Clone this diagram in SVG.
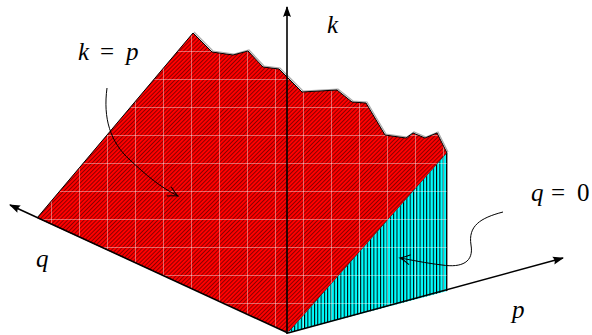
<svg xmlns="http://www.w3.org/2000/svg" width="592" height="335" viewBox="0 0 592 335">
<style>
.lbl{font-family:'Liberation Serif','Times New Roman',serif;font-size:25px;fill:#000}
.it{font-style:italic}
.axis{stroke:#000;stroke-width:1.6;fill:none}
.curve{stroke:#000;stroke-width:1;fill:none}
</style>
<defs>
<pattern id="diag" patternUnits="userSpaceOnUse" width="2.9" height="10" patternTransform="rotate(45)">
<rect x="0" y="0" width="0.6" height="10" fill="#000" fill-opacity="0.75"/>
</pattern>
<pattern id="vert" patternUnits="userSpaceOnUse" width="3.3" height="10" x="0.5">
<rect x="0" y="0" width="1" height="10" fill="#000"/>
</pattern>
<pattern id="grid" patternUnits="userSpaceOnUse" x="23" y="23" width="28" height="28">
<rect x="0" y="0" width="28" height="0.9" fill="#fff" fill-opacity="0.45"/>
<rect x="0" y="0" width="0.9" height="28" fill="#fff" fill-opacity="0.45"/>
</pattern>
<marker id="tip" markerUnits="userSpaceOnUse" markerWidth="14" markerHeight="10" viewBox="-12 -5 14 10" refX="0" refY="0" orient="auto">
<path d="M1,0 L-10,-4 Q-7.5,0 -10,4 Z" fill="#000"/>
</marker>
<marker id="open" markerUnits="userSpaceOnUse" markerWidth="14" markerHeight="12" viewBox="-12 -6 14 12" refX="0" refY="0" orient="auto">
<path d="M-10,-5 Q-4,-1.2 0,0 Q-4,1.2 -10,5" fill="none" stroke="#000" stroke-width="1"/>
</marker>
</defs>

<g id="surface-kp">
<polygon points="37,218 193,33 212,52 233,55 248,51 263,67 279,69 290,80 302,92 337,90 352,102 366,103 385,135 406,138 413,133 425,138 437,133 447,153 288,333" fill="#ff0000"/>
<polygon points="37,218 193,33 212,52 233,55 248,51 263,67 279,69 290,80 302,92 337,90 352,102 366,103 385,135 406,138 413,133 425,138 437,133 447,153 288,333" fill="url(#diag)"/>
<polygon points="37,218 193,33 212,52 233,55 248,51 263,67 279,69 290,80 302,92 337,90 352,102 366,103 385,135 406,138 413,133 425,138 437,133 447,153 288,333" fill="url(#grid)"/>
<polyline points="193,33 212,52 233,55 248,51 263,67 279,69 290,80 302,92 337,90 352,102 366,103 385,135 406,138 413,133 425,138 437,133 447,153" fill="none" stroke="#aaa" stroke-width="1.2" transform="translate(1,-1)"/>
<polyline points="37,218 193,33 212,52 233,55 248,51 263,67 279,69 290,80 302,92 337,90 352,102 366,103 385,135 406,138 413,133 425,138 437,133 447,153" fill="none" stroke="#000" stroke-width="1"/>
<line x1="447" y1="153" x2="288" y2="333" stroke="#000" stroke-width="0.8"/>
</g>

<g id="surface-q0">
<polygon points="447,153 447,291 288,333" fill="#00ffff"/>
<polygon points="447,153 447,291 288,333" fill="url(#vert)"/>
<polygon points="447,153 447,291 288,333" fill="url(#grid)"/>
<line x1="447" y1="153" x2="447" y2="291" stroke="#000" stroke-width="0.8"/>
</g>

<g id="connectors">
<line class="axis" x1="287" y1="334" x2="287" y2="7" marker-end="url(#tip)"/>
<line class="axis" x1="288" y1="333" x2="10" y2="205" stroke-width="2" marker-end="url(#tip)"/>
<line class="axis" x1="288" y1="333" x2="563" y2="258" marker-end="url(#tip)"/>
<path class="curve" d="M107,88 C103,118 110,142 130,160 C146,175 160,187 178,196" marker-end="url(#open)"/>
<path class="curve" d="M503,212 C480,218 468,226 471,245 C474,262 462,268 442,265 C425,263 412,260 400,258" marker-end="url(#open)"/>
</g>

<g id="labels">
<text class="lbl" x="78" y="60"><tspan class="it">k</tspan><tspan x="100">=</tspan><tspan class="it" x="126">p</tspan></text>
<text class="lbl it" x="327" y="33">k</text>
<text class="lbl it" x="36" y="267">q</text>
<text class="lbl it" x="512" y="318">p</text>
<text class="lbl" x="531" y="201"><tspan class="it">q</tspan><tspan x="551">=</tspan><tspan x="577">0</tspan></text>
</g>
</svg>
